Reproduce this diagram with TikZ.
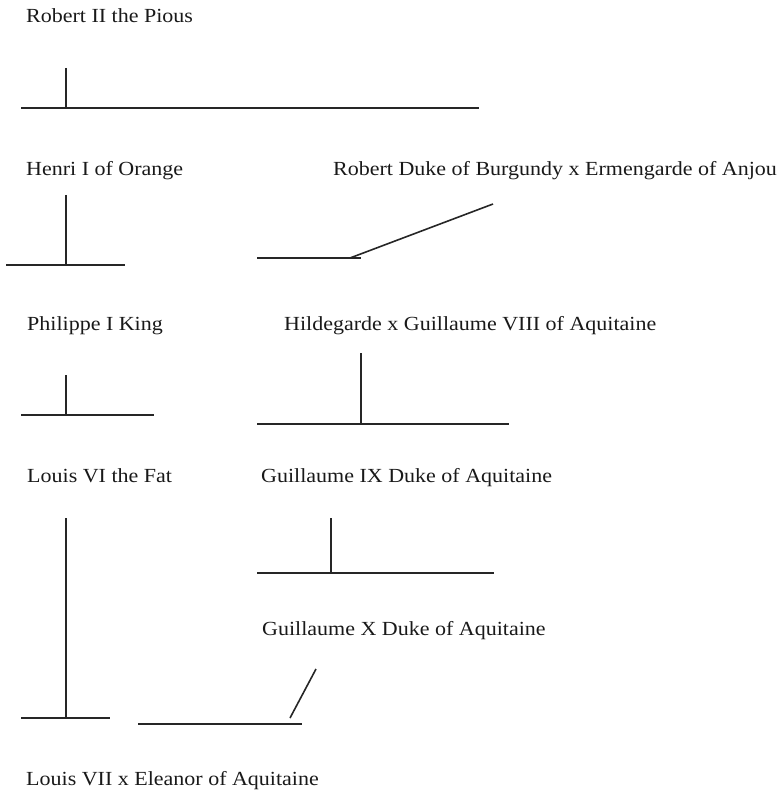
\documentclass[tikz,border=0pt]{standalone}
\usepackage{fontspec}
\setmainfont[FakeStretch=1.1]{Liberation Serif}
\begin{document}
\begin{tikzpicture}[x=1pt,y=-1pt,
  lbl/.style={anchor=base west,inner sep=0pt,font=\fontsize{20}{22}\selectfont,text=black!90},
  ln/.style={line width=1.6pt,draw=black!85}]
\useasboundingbox (0,0) rectangle (779,791);
% labels
\node[lbl] (robert2) at (26,23) {Robert II the Pious};
\node[lbl] (henri) at (26,176) {Henri I of Orange};
\node[lbl] (robertb) at (333,176) {Robert Duke of Burgundy x Ermengarde of Anjou};
\node[lbl] (philippe) at (27,330) {Philippe I King};
\node[lbl] (hild) at (284,330) {Hildegarde x Guillaume VIII of Aquitaine};
\node[lbl] (louis6) at (27,482) {Louis VI the Fat};
\node[lbl] (g9) at (261,482) {Guillaume IX Duke of Aquitaine};
\node[lbl] (g10) at (262,635) {Guillaume X Duke of Aquitaine};
\node[lbl] (louis7) at (26,785) {Louis VII x Eleanor of Aquitaine};
% coordinates
\coordinate (a1) at (66,68);   \coordinate (a2) at (66,108);
\coordinate (a3) at (21,108);  \coordinate (a4) at (479,108);
\coordinate (b1) at (66,195);  \coordinate (b2) at (66,265);
\coordinate (b3) at (6,265);   \coordinate (b4) at (125,265);
\coordinate (c1) at (257,258); \coordinate (c2) at (361,258);
\coordinate (c3) at (350,258); \coordinate (c4) at (493,204);
\coordinate (d1) at (66,375);  \coordinate (d2) at (66,415);
\coordinate (d3) at (21,415);  \coordinate (d4) at (154,415);
\coordinate (e1) at (361,353); \coordinate (e2) at (361,424);
\coordinate (e3) at (257,424); \coordinate (e4) at (509,424);
\coordinate (f1) at (66,518);  \coordinate (f2) at (66,718);
\coordinate (f3) at (21,718);  \coordinate (f4) at (110,718);
\coordinate (g1) at (331,518); \coordinate (g2) at (331,573);
\coordinate (g3) at (257,573); \coordinate (g4) at (494,573);
\coordinate (h1) at (316,669); \coordinate (h2) at (290,718);
\coordinate (h3) at (138,724); \coordinate (h4) at (302,724);
% lines
\draw[ln] (a1) -- (a2); \draw[ln] (a3) -- (a4);
\draw[ln] (b1) -- (b2); \draw[ln] (b3) -- (b4);
\draw[ln] (c1) -- (c2); \draw[ln] (c3) -- (c4);
\draw[ln] (d1) -- (d2); \draw[ln] (d3) -- (d4);
\draw[ln] (e1) -- (e2); \draw[ln] (e3) -- (e4);
\draw[ln] (f1) -- (f2); \draw[ln] (f3) -- (f4);
\draw[ln] (g1) -- (g2); \draw[ln] (g3) -- (g4);
\draw[ln] (h1) -- (h2); \draw[ln] (h3) -- (h4);
\end{tikzpicture}
\end{document}
